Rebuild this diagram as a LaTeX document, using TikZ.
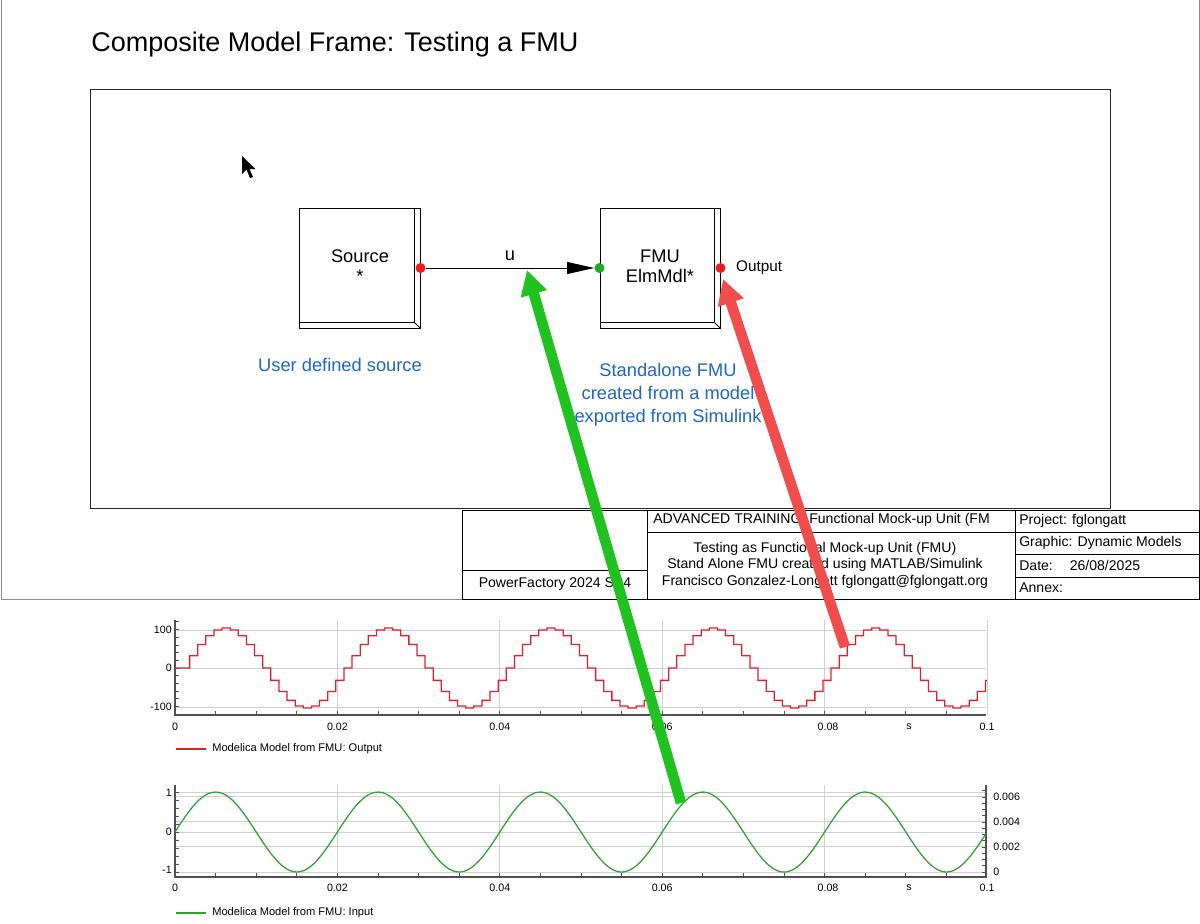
\documentclass[tikz,border=0pt]{standalone}
\usepackage{fontspec}
\setmainfont{Liberation Sans}
\usetikzlibrary{arrows.meta,calc,positioning}
\definecolor{FrameGray}{HTML}{8C8C8C}
\definecolor{GridGray}{HTML}{D0D0D0}
\definecolor{AxisGray}{HTML}{505050}
\definecolor{NoteBlue}{HTML}{1E66C8}
\definecolor{PortRed}{HTML}{EE1C1C}
\definecolor{PortGreen}{HTML}{22A82A}
\definecolor{OutRed}{HTML}{E0202A}
\definecolor{InGreen}{HTML}{2EA32E}
\definecolor{HintGreen}{HTML}{1FC21F}
\definecolor{HintRed}{HTML}{F24D4D}

\begin{document}
\begin{tikzpicture}[
  x=0.025cm,y=-0.025cm,
  blk/.style={draw=black,line width=0.7pt,minimum width=3cm,minimum height=3cm,
    inner sep=0pt},
  blktxt/.style={align=center,font=\fontsize{13}{14.5}\selectfont},
  port/.style={circle,inner sep=0pt,minimum size=0.25cm},
  sig/.style={-{Triangle[length=0.68cm,width=0.3cm]},line width=0.7pt},
  note/.style={align=center,text=NoteBlue,font=\fontsize{13}{16.3}\selectfont},
  tb/.style={font=\fontsize{10}{11.7}\selectfont,inner sep=0pt},
  tick/.style={font=\fontsize{7.6}{9}\selectfont,inner sep=0pt},
  legend/.style={font=\fontsize{7.9}{9}\selectfont,anchor=west,inner sep=0pt},
  grid/.style={draw=GridGray,line width=0.6pt},
  axis/.style={draw=AxisGray,line width=0.9pt},
  hint/.style={line width=7.5pt,-{Triangle[length=0.62cm,width=0.64cm]}}
]
\useasboundingbox (0,0) rectangle (1200,923);

% Sheet border and the composite model frame.
\draw[FrameGray,line width=0.7pt] (1,0) -- (1,599) -- (1199,599) -- (1199,0);
\draw[black!85,line width=0.7pt] (90,89) rectangle (1110,508);
\node[anchor=west,inner sep=0pt,font=\fontsize{19.2}{21}\selectfont] (title)
  at (91,45) {Composite Model Frame: Testing a FMU};

% Blocks with their bevelled edge.
\node[blk] (src) at (360,268) {};
\node[blk] (fmu) at (660,268) {};
\foreach \b in {src,fmu} {
  \draw[line width=0.6pt] ($(\b.north east)+(-6,0)$) -- ($(\b.south east)+(-6,-6)$)
    -- ($(\b.south west)+(0,-6)$);
  \draw[line width=0.6pt] ($(\b.south east)+(-6,-6)$) -- (\b.south east);
}
\node[blktxt] (srctxt) at (360,266) {Source\\*};
\node[blktxt] (fmutxt) at (660,266) {FMU\\ElmMdl*};

\node[port,fill=PortRed] (srcout) at (src.east) {};
\node[port,fill=PortGreen] (fmuin) at (fmu.west) {};
\node[port,fill=PortRed] (fmuout) at (fmu.east) {};
\node[anchor=west,inner sep=0pt,font=\fontsize{10.9}{12}\selectfont,
  right=0.25cm of fmuout] (outlbl) {Output};

\draw[sig] (srcout) -- node[midway,above,inner sep=5pt,
  font=\fontsize{13}{14}\selectfont] (ulbl) {u} (fmuin);

\node[note] (srcnote) at (340,365) {User defined source};
\node[note] (fmunote) at (668,395)
  {Standalone FMU\\created from a model\\exported from Simulink};

% Mouse pointer.
\fill (242,156) -- (242,174) -- (246.5,169.5) -- (250,178) -- (253,177)
  -- (249.5,169) -- (255.5,169) -- cycle;

% Title block.
\draw[line width=0.7pt] (462,510) rectangle (1199,599);
\draw[line width=0.7pt] (647,510) -- (647,599) (1015,510) -- (1015,599)
  (462,570) -- (647,570) (647,532) -- (1199,532)
  (1015,554) -- (1199,554) (1015,577) -- (1199,577);
\node[tb] (tbsw) at (555,584) {PowerFactory 2024 SP4};
\node[tb,anchor=west] (tbhead) at (653,520)
  {ADVANCED TRAINING: Functional Mock-up Unit (FM};
\node[tb,align=center] (tbdesc) at (825,565)
  {Testing as Functional Mock-up Unit (FMU)\\
   Stand Alone FMU created using MATLAB/Simulink\\
   Francisco Gonzalez-Longatt fglongatt@fglongatt.org};
\node[tb,anchor=west] (tbproj) at (1019,521) {Project: fglongatt};
\node[tb,anchor=west] (tbgraph) at (1019,543) {Graphic: Dynamic Models};
\node[tb,anchor=west] (tbdate) at (1019,565) {Date:\hspace{12pt}26/08/2025};
\node[tb,anchor=west] (tbannex) at (1019,588) {Annex:};

% Output plot.
\foreach \y in {630,668,707} \draw[grid] (175,\y) -- (986,\y);
\foreach \k in {1,...,5} \draw[grid] ({175+162.4*\k},620) -- ({175+162.4*\k},715);
\foreach \k in {1,...,19} \draw[AxisGray,line width=0.5pt] ({175+40.6*\k},715) -- ++(0,-4);
\foreach \k in {-6,...,6} \draw[AxisGray,line width=0.5pt] (175,{668+7.7*\k}) -- ++(4,0);
\draw[axis] (175,620) -- (175,715) -- (986,715);
\draw[OutRed,line width=0.9pt] (175,668) -- (181.5,668)
  -- plot[const plot,domain=0:99,samples=100] ({181.5+8.12*\x},{668-40*sin(18*\x)})
  -- (987,680.4);
\foreach \lab/\xx [count=\i] in {0/175,0.02/337.4,0.04/499.8,0.06/662.2,0.08/828,s/909,0.1/987}
  \node[tick] (otx\i) at (\xx,727) {\lab};
\node[tick,anchor=east] (oty1) at (172,630) {100};
\node[tick,anchor=east] (oty2) at (172,668) {0};
\node[tick,anchor=east] (oty3) at (172,707) {-100};
\node[legend] (outleg) at (212,749) {Modelica Model from FMU: Output};
\draw[OutRed,line width=0.9pt,shorten >=0.15cm] (176,749) -- (outleg.west);

% Input plot.
\foreach \y in {792,796,821,832,846,872} \draw[grid] (175,\y) -- (986,\y);
\foreach \k in {1,...,4} \draw[grid] ({175+162.4*\k},785) -- ({175+162.4*\k},877);
\foreach \k in {1,...,19} \draw[AxisGray,line width=0.5pt] ({175+40.6*\k},877) -- ++(0,-4);
\foreach \k in {-5,...,5} \draw[AxisGray,line width=0.5pt] (175,{832+8*\k}) -- ++(4,0);
\foreach \k in {0,...,13} \draw[AxisGray,line width=0.5pt] (986,{872-6.25*\k}) -- ++(-4,0);
\draw[axis] (175,785) -- (175,877) -- (986,877) -- (986,785);
\draw[InGreen,line width=0.9pt] plot[domain=0:811,samples=220]
  ({175+\x},{832-40*sin(\x*2.2167)});
\foreach \lab/\xx [count=\i] in {0/175,0.02/337.4,0.04/499.8,0.06/662.2,0.08/828,s/909,0.1/987}
  \node[tick] (itx\i) at (\xx,888) {\lab};
\node[tick,anchor=east] (ity1) at (172,793) {1};
\node[tick,anchor=east] (ity2) at (172,832) {0};
\node[tick,anchor=east] (ity3) at (172,870) {-1};
\foreach \lab/\yy [count=\i] in {0.006/797,0.004/822,0.002/847,0/872}
  \node[tick,anchor=west] (iry\i) at (993,\yy) {\lab};
\node[legend] (inleg) at (212,913) {Modelica Model from FMU: Input};
\draw[InGreen,line width=0.9pt,shorten >=0.15cm] (176,913) -- (inleg.west);

% Hint arrows linking the plots to the signals.
\coordinate (gtail) at (681,803);
\coordinate (gtip) at (527,270);
\draw[hint,HintGreen] (gtail) -- (gtip);
\coordinate (rtail) at (845,647);
\coordinate (rtip) at (723,279);
\draw[hint,HintRed] (rtail) -- (rtip);

\end{tikzpicture}
\end{document}
